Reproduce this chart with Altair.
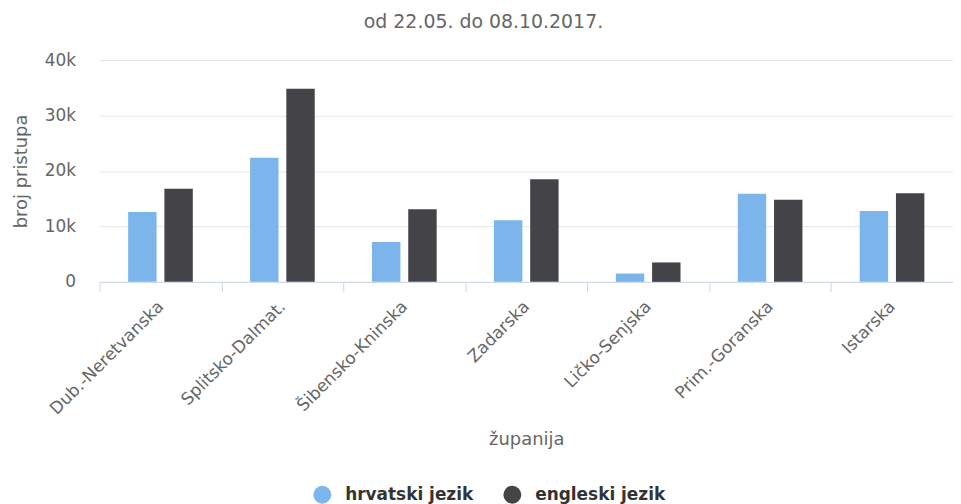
import altair as alt
import pandas as pd

categories = ["Dub.-Neretvanska", "Splitsko-Dalmat.", "Šibensko-Kninska", "Zadarska",
              "Ličko-Senjska", "Prim.-Goranska", "Istarska"]
series_names = ["hrvatski jezik", "engleski jezik"]
hrvatski = [12600, 22400, 7200, 11100, 1500, 15900, 12800]
engleski = [16800, 34800, 13100, 18500, 3500, 14800, 16000]
colors = ["#7cb5ec", "#434348"]

rows = []
for c, h, e in zip(categories, hrvatski, engleski):
    rows.append({"zupanija": c, "serija": series_names[0], "v": h})
    rows.append({"zupanija": c, "serija": series_names[1], "v": e})
df = pd.DataFrame(rows)

FONT = "DejaVu Sans"

chart = alt.Chart(df).mark_bar().encode(
    x=alt.X("zupanija:N", sort=categories,
            scale=alt.Scale(paddingInner=0, paddingOuter=0),
            axis=alt.Axis(title="županija", labelAngle=-45, labelAlign="right",
                          labelBaseline="middle", labelPadding=12,
                          tickBand="extent", tickSize=10, tickColor="#ccd6eb",
                          domainColor="#ccd6eb", grid=False,
                          labelColor="#666666", labelFontSize=17, labelFont=FONT,
                          titleColor="#666666", titleFontSize=18, titleFont=FONT,
                          titleFontWeight="normal", titlePadding=14)),
    xOffset=alt.XOffset("serija:N", sort=series_names,
                        scale=alt.Scale(paddingInner=0.216, paddingOuter=0.79)),
    y=alt.Y("v:Q", scale=alt.Scale(domain=[0, 40000]),
            axis=alt.Axis(title="broj pristupa", values=[0, 10000, 20000, 30000, 40000],
                          labelExpr="datum.value == 0 ? '0' : (datum.value / 1000) + 'k'",
                          domain=False, ticks=False, gridColor="#e6e6e6",
                          labelPadding=24, labelColor="#666666", labelFontSize=17,
                          labelFont=FONT, titleColor="#666666", titleFontSize=18,
                          titleFont=FONT, titleFontWeight="normal", titlePadding=14)),
    color=alt.Color("serija:N", sort=series_names,
                    scale=alt.Scale(domain=series_names, range=colors),
                    legend=alt.Legend(title=None, orient="none", direction="horizontal",
                                      legendX=215, legendY=428, symbolType="circle",
                                      symbolSize=324, symbolStrokeWidth=0,
                                      labelFont=FONT, labelFontSize=17,
                                      labelFontWeight="bold", labelColor="#333333",
                                      columnPadding=30, labelOffset=14)),
).properties(
    width=858, height=223,
    title=alt.Title("od 22.05. do 08.10.2017.", font=FONT, fontSize=19,
                    fontWeight="normal", color="#666666", anchor="middle", offset=19,
                    dx=-43),
    autosize=alt.AutoSizeParams(type="none"),
    padding={"left": 92, "top": 51, "right": 0, "bottom": 222},
).configure_view(stroke=None)

chart.save("out.html", embed_options={"renderer": "svg", "actions": False})
